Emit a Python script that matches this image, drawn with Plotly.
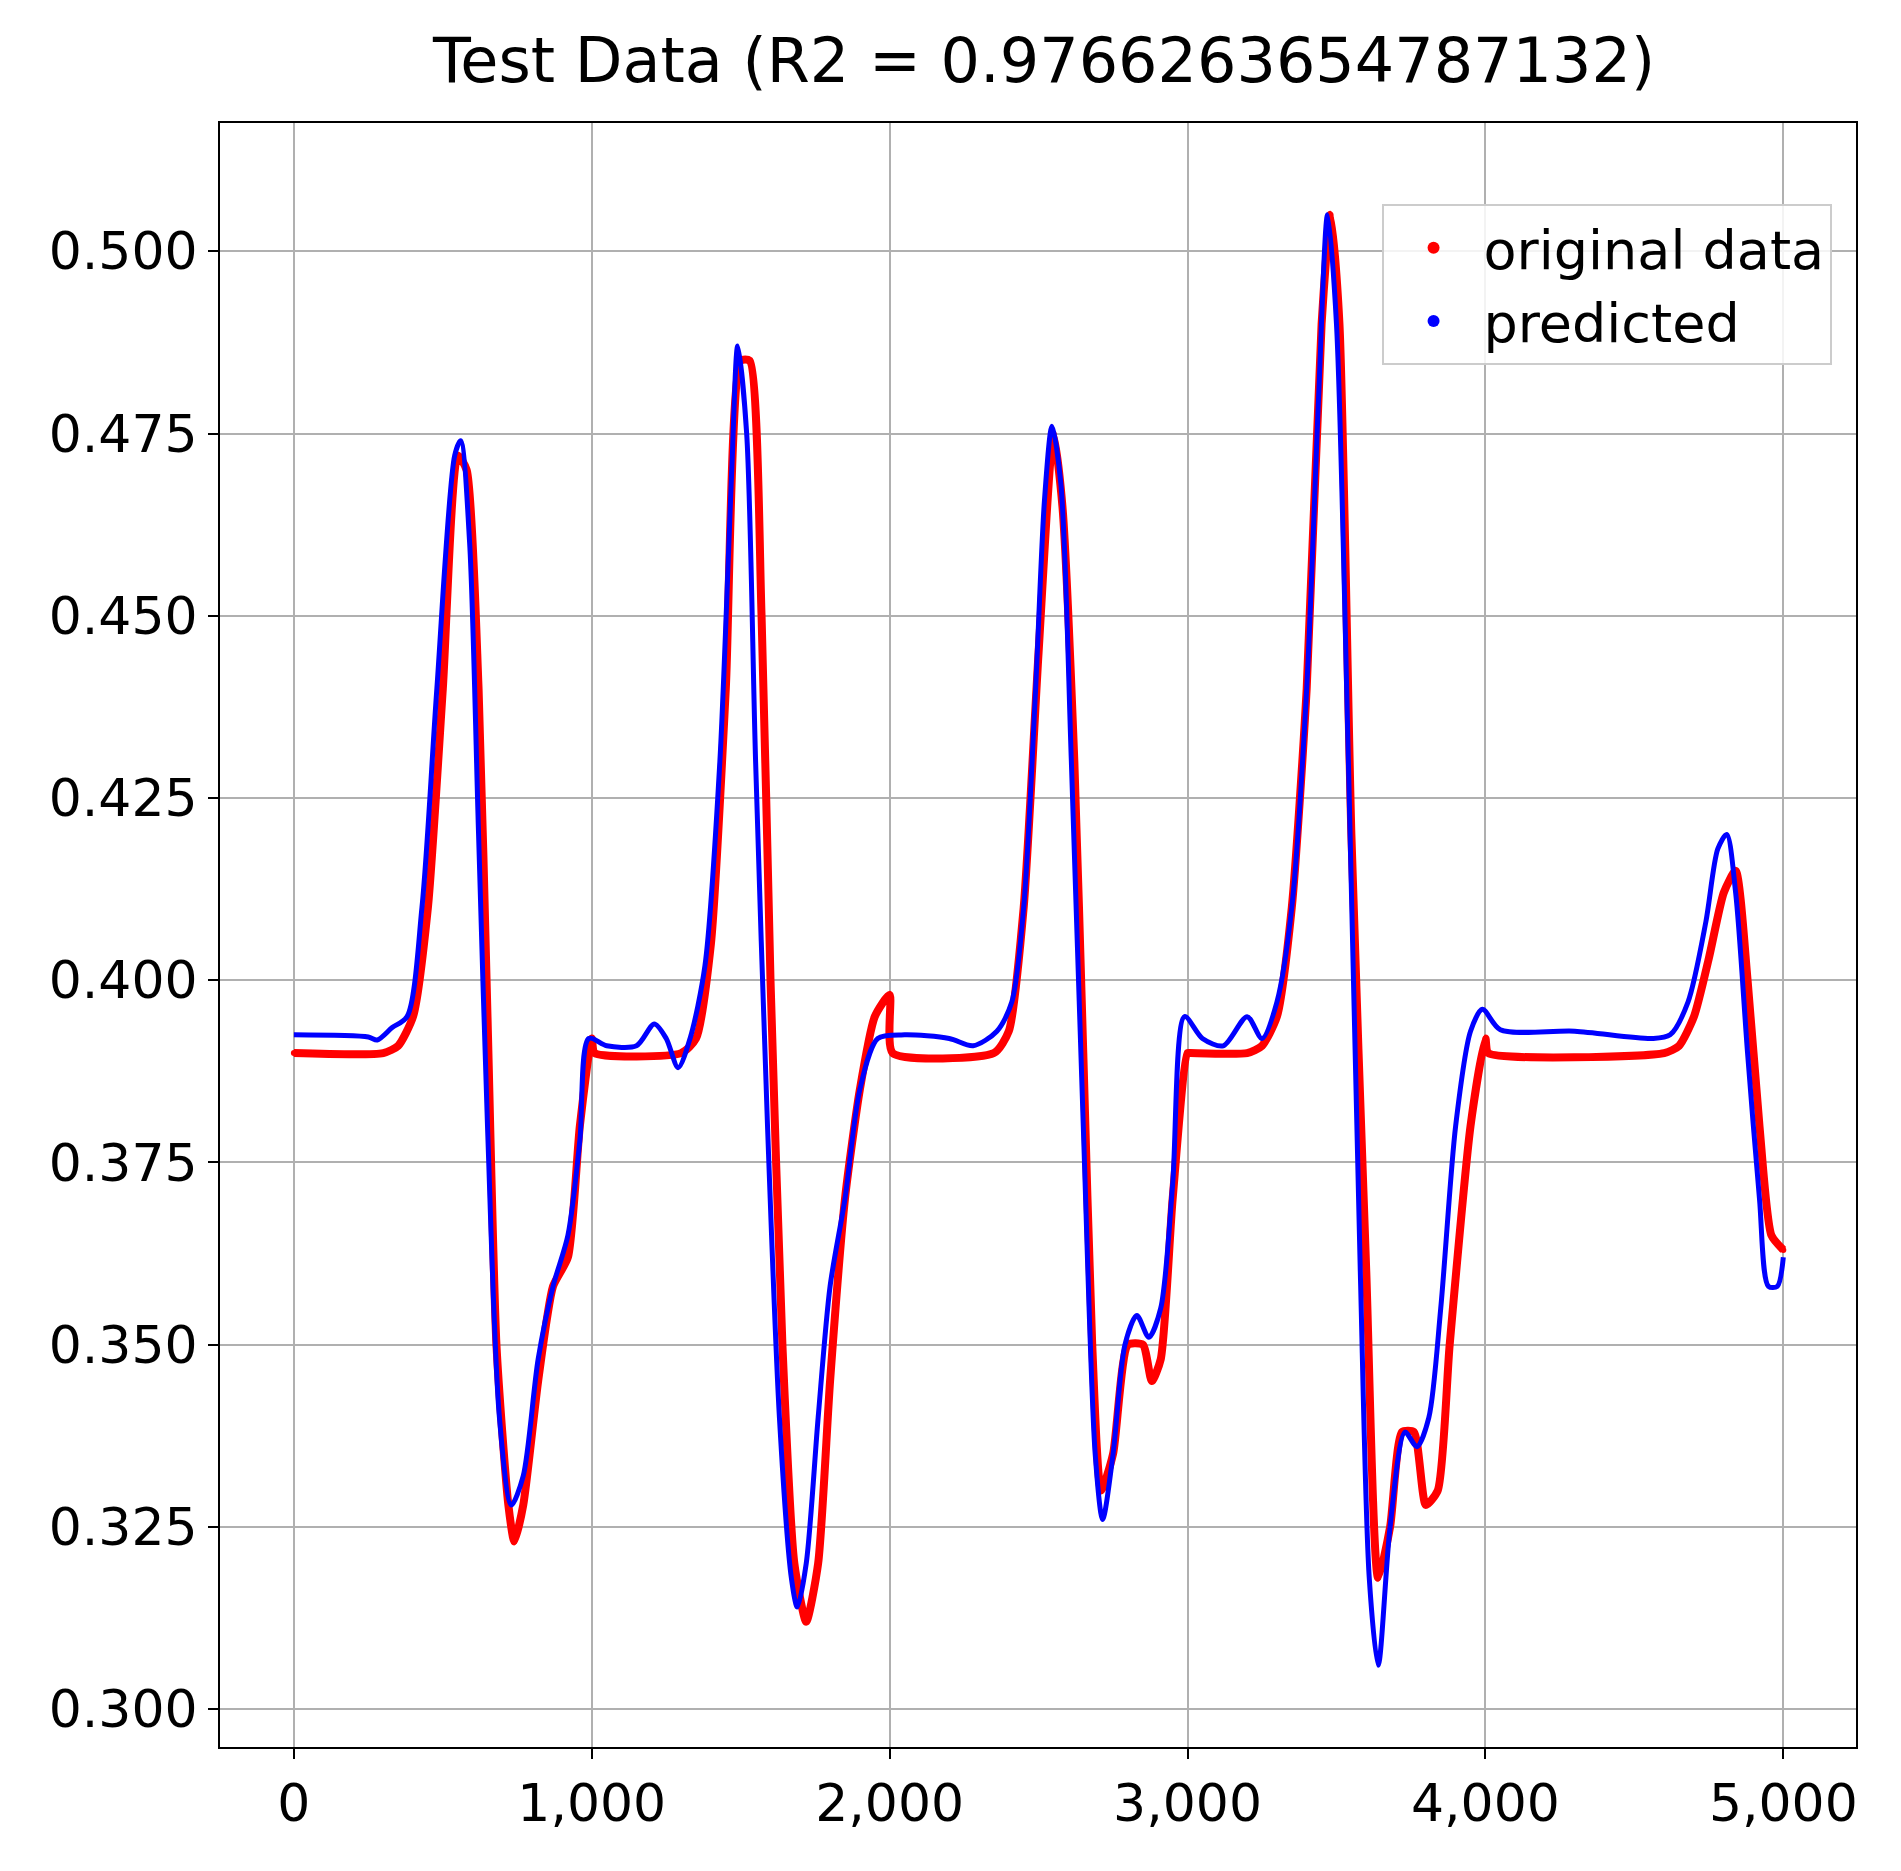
import plotly.graph_objects as go

orig_x = [0,300,350,400,450,500,550,580,620,650,680,720,740,770,820,870,920,960,1000,1010,1300,1350,1400,1450,1500,1530,1570,1600,1640,1680,1720,1760,1800,1850,1900,1950,2000,2010,2350,2400,2450,2500,2550,2580,2620,2650,2680,2710,2750,2800,2850,2880,2910,2950,3000,3010,3200,3250,3300,3350,3400,3450,3480,3510,3550,3600,3640,3680,3720,3760,3800,3840,3880,3950,4000,4010,4600,4650,4700,4750,4800,4840,4880,4920,4960,5000]
orig_y = [0.390,0.390,0.391,0.395,0.410,0.440,0.472,0.470,0.440,0.395,0.350,0.328,0.323,0.328,0.345,0.358,0.362,0.380,0.392,0.390,0.390,0.392,0.405,0.440,0.485,0.485,0.450,0.400,0.350,0.320,0.312,0.320,0.345,0.370,0.385,0.395,0.398,0.390,0.390,0.393,0.410,0.445,0.475,0.465,0.430,0.390,0.350,0.330,0.335,0.350,0.350,0.345,0.348,0.370,0.390,0.390,0.390,0.391,0.395,0.410,0.440,0.490,0.505,0.490,0.420,0.360,0.318,0.325,0.338,0.338,0.328,0.330,0.350,0.380,0.392,0.390,0.390,0.391,0.395,0.403,0.412,0.415,0.400,0.380,0.365,0.363]

pred_x = [0,250,280,330,380,430,480,540,560,590,620,650,690,730,770,820,870,920,960,990,1050,1150,1210,1250,1290,1330,1380,1430,1470,1490,1520,1550,1590,1630,1670,1690,1720,1760,1800,1850,1900,1960,2050,2200,2280,2360,2410,2450,2490,2520,2545,2575,2610,2650,2690,2715,2750,2790,2830,2870,2910,2950,2990,3050,3120,3200,3250,3300,3350,3400,3440,3470,3500,3540,3580,3610,3640,3680,3730,3770,3810,3850,3900,3950,3990,4050,4300,4560,4620,4680,4740,4780,4810,4840,4880,4920,4950,4980,5000]
pred_y = [0.3925,0.3922,0.3918,0.3935,0.395,0.410,0.440,0.472,0.474,0.460,0.420,0.380,0.340,0.328,0.332,0.348,0.358,0.365,0.378,0.392,0.391,0.391,0.394,0.392,0.388,0.392,0.402,0.430,0.470,0.487,0.475,0.430,0.380,0.340,0.318,0.314,0.320,0.340,0.358,0.370,0.385,0.392,0.3925,0.392,0.391,0.393,0.397,0.410,0.440,0.466,0.476,0.468,0.430,0.380,0.335,0.326,0.335,0.350,0.354,0.351,0.355,0.372,0.395,0.392,0.391,0.395,0.392,0.397,0.410,0.440,0.480,0.505,0.490,0.430,0.360,0.318,0.306,0.325,0.338,0.336,0.340,0.355,0.380,0.393,0.396,0.3932,0.393,0.392,0.3925,0.397,0.408,0.418,0.420,0.412,0.390,0.370,0.358,0.358,0.362]

font = "DejaVu Sans"
fig = go.Figure()
fig.add_trace(go.Scatter(x=orig_x, y=orig_y, mode="lines+markers", line=dict(color="red", width=8, shape="spline", smoothing=0.6),
                         marker=dict(color="red", size=6), showlegend=False))
fig.add_trace(go.Scatter(x=pred_x, y=pred_y, mode="lines", line=dict(color="blue", width=5, shape="spline", smoothing=0.8), showlegend=False))
fig.add_trace(go.Scatter(x=[None], y=[None], mode="markers", marker=dict(color="red", size=6), name="original data"))
fig.add_trace(go.Scatter(x=[None], y=[None], mode="markers", marker=dict(color="blue", size=6), name="predicted"))

axis_common = dict(showgrid=True, gridcolor="#b0b0b0", gridwidth=2, zeroline=False, showline=True, linecolor="black",
                   linewidth=2, mirror=True, ticks="outside", ticklen=10, tickwidth=2, tickcolor="black",
                   tickfont=dict(family=font, size=52, color="black"))
fig.update_xaxes(range=[-248, 5244], tickvals=[0,1000,2000,3000,4000,5000], tickformat=",d", **axis_common)
fig.update_yaxes(range=[0.2948, 0.5176], tickvals=[0.300,0.325,0.350,0.375,0.400,0.425,0.450,0.475,0.500], tickformat=".3f", **axis_common)
fig.update_layout(
    width=1901, height=1871, plot_bgcolor="white", paper_bgcolor="white",
    margin=dict(l=212, r=53, t=115, b=132),
    title=dict(text="Test Data (R2 = 0.9766263654787132)", x=0.545, xanchor="center", y=0.972, yanchor="middle",
               font=dict(family=font, size=62, color="black")),
    legend=dict(x=0.71, y=0.95, xanchor="left", yanchor="top", bgcolor="rgba(255,255,255,0.85)",
                bordercolor="#cccccc", borderwidth=2, font=dict(family=font, size=54, color="black"),
                itemsizing="constant", itemwidth=90),
)
fig.write_html("out.html")
